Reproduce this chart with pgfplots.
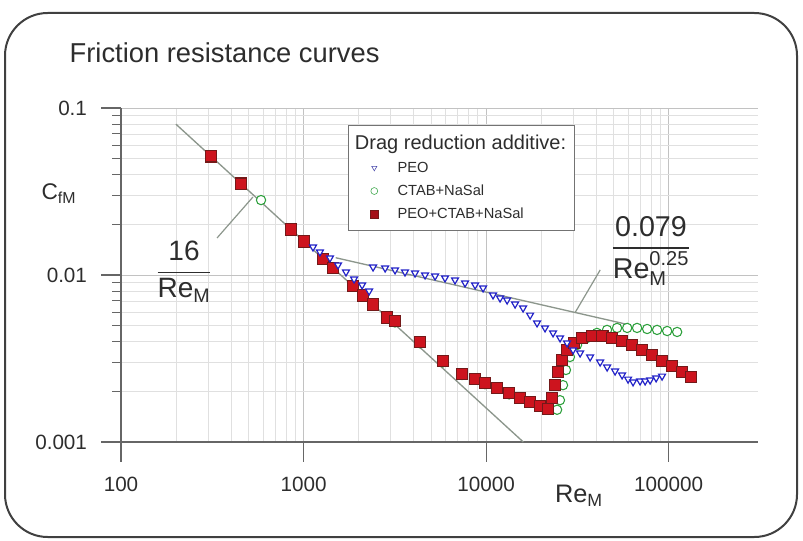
\documentclass[border=0pt]{standalone}
\usepackage{fontspec}
\setmainfont{Liberation Sans}
\usepackage{amsmath}
\usepackage{pgfplots}
\pgfplotsset{compat=1.18}
\definecolor{peoblue}{RGB}{35,35,200}
\definecolor{ctabgreen}{RGB}{45,160,60}
\definecolor{mixred}{RGB}{205,20,30}
\definecolor{mixedge}{RGB}{115,25,25}
\definecolor{txt}{RGB}{45,45,45}
\definecolor{refline}{RGB}{140,150,140}

\begin{document}
\begin{tikzpicture}
\path[use as bounding box] (0,0) rectangle (602.25pt,405pt);
\draw[line width=1.5pt, black!75, rounded corners=32pt] (3.75pt,2.25pt) rectangle (597.75pt,395.25pt);
\begin{axis}[
  at={(90.75pt,73.5pt)}, anchor=south west,
  scale only axis, width=477.75pt, height=250.5pt,
  xmode=log, ymode=log,
  xmin=100, xmax=3.09e5, ymin=0.001, ymax=0.1,
  axis lines*=left,
  axis line style={black!60, line width=0.9pt},
  grid=both,
  major grid style={black!24, line width=0.6pt},
  minor grid style={black!12, line width=0.5pt},
  tick align=outside,
  major tick length=15pt, minor tick length=6.75pt,
  tick style={black!60, line width=0.8pt},
  minor x tick style={draw=none},
  xtick={100,1000,10000,100000}, xticklabels={100,1000,10000,100000},
  ytick={0.001,0.01,0.1}, yticklabels={0.001,0.01,0.1},
  ticklabel style={font=\fontsize{15.5}{18}\selectfont, text=txt},
  xticklabel style={yshift=-8pt},
  yticklabel style={xshift=-7pt},
  title={Friction resistance curves},
  title style={at={(axis description cs:-0.088,1.111)}, anchor=base west,
    font=\fontsize{20.5}{24}\selectfont, text=txt},
  xlabel={Re\textsubscript{M}},
  xlabel style={at={(axis description cs:0.674,-0.18)}, anchor=base west,
    font=\fontsize{19}{22}\selectfont, text=txt},
  ylabel={C\textsubscript{fM}},
  ylabel style={rotate=-90, at={(axis description cs:-0.132,0.7246)}, anchor=base west,
    font=\fontsize{17}{20}\selectfont, text=txt},
  legend style={at={(axis description cs:0.3564,0.949)}, anchor=north west,
    draw=black!55, fill=white, font=\fontsize{11}{13}\selectfont, text=txt,
    inner xsep=4pt, inner ysep=5pt, row sep=4pt},
  legend cell align=left,
  legend image code/.code={\path[draw=none, fill=none] (0pt,-3pt) rectangle (31pt,3pt);
    \draw[#1] plot coordinates {(15.5pt,0pt)};},
]
\addlegendimage{empty legend}
\addlegendentry{\hspace*{-32pt}\fontsize{15}{18}\selectfont Drag reduction additive:}
\addlegendimage{only marks, mark=triangle*, mark size=2.2pt, mark options={rotate=180, fill=white, draw=peoblue!60!gray}}
\addlegendentry{PEO}
\addlegendimage{only marks, mark=*, mark size=2.6pt, mark options={fill=white, draw=ctabgreen}}
\addlegendentry{CTAB+NaSal}
\addlegendimage{only marks, mark=square*, mark size=3pt, mark options={fill=mixred!80!black, draw=mixedge}}
\addlegendentry{PEO+CTAB+NaSal}

% reference lines: laminar 16/Re and Blasius 0.079/Re^0.25
\addplot[forget plot, refline, line width=1pt] coordinates {(200,0.08) (16000,0.001)};
\addplot[forget plot, refline, line width=1pt] coordinates {(1500,0.01269) (60000,0.005047)};

% CTAB+NaSal
\addplot[forget plot, only marks, mark=*, mark size=3.5pt,
  mark options={fill=white, draw=ctabgreen, line width=0.8pt}] table {
585 0.0281
855 0.0187
1280 0.0125
1868 0.00857
2404 0.00666
3170 0.0052
4345 0.0039
5810 0.0030
7380 0.00252
9880 0.00222
13370 0.00193
17400 0.00172
21880 0.00156
24500 0.00156
25400 0.00178
26400 0.00219
27400 0.00270
28800 0.00323
31500 0.00381
35800 0.00420
40500 0.00450
46000 0.00469
52200 0.00482
59300 0.00482
67200 0.00482
76300 0.00475
86500 0.00469
98200 0.00462
111400 0.00456
};

% PEO+CTAB+NaSal
\addplot[forget plot, only marks, mark=square*, mark size=4.3pt,
  mark options={fill=mixred, draw=mixedge, line width=0.8pt}] table {
311 0.0514
455 0.0352
855 0.0187
1007 0.0159
1280 0.0125
1452 0.0110
1868 0.00857
2118 0.00755
2404 0.00666
2870 0.00557
3170 0.0053
4345 0.00397
5810 0.00305
7380 0.00255
8700 0.00238
9880 0.00225
11500 0.00210
13370 0.00196
15350 0.00183
17400 0.00174
19770 0.00164
21880 0.00158
23000 0.00183
23900 0.00219
24800 0.00262
26100 0.00310
27800 0.00356
30400 0.00392
33600 0.00420
38100 0.00432
43300 0.00432
49000 0.00420
55600 0.00403
63100 0.00381
71600 0.00356
81300 0.00332
92100 0.00305
104500 0.00285
118600 0.00262
132900 0.00245
};

% PEO
\addplot[forget plot, only marks, mark=triangle*, mark size=3pt,
  mark options={rotate=180, fill=white, draw=peoblue, line width=0.9pt}] table {
1127 0.0147
1230 0.01374
1396 0.01265
1545 0.01148
1709 0.01042
1892 0.00946
2094 0.00871
2287 0.00802
2404 0.01116
2800 0.01101
3172 0.01072
3597 0.01042
4082 0.01027
4632 0.01000
5256 0.00986
5960 0.00960
6761 0.00934
7674 0.00896
8710 0.00871
9630 0.00836
10920 0.00759
11930 0.00728
13040 0.00708
14420 0.00670
15950 0.00634
17430 0.00575
19030 0.00516
21040 0.00482
23280 0.00450
25430 0.00420
27780 0.00392
29970 0.00356
32750 0.00341
37160 0.00323
42160 0.00301
46060 0.00281
50910 0.00266
55620 0.00252
59980 0.00238
63880 0.00229
69760 0.00232
74380 0.00232
79220 0.00235
85450 0.00242
92120 0.00248
};

% leader lines and formulae
\draw[refline, line width=0.9pt] (axis cs:336,0.01667) -- (axis cs:528,0.0293);
\draw[refline, line width=0.9pt] (axis cs:42200,0.01072) -- (axis cs:30760,0.00596);
\node[anchor=base, text=txt, font=\fontsize{21}{25}\selectfont]
  at (axis description cs:0.0989,0.488) {$\displaystyle\frac{\text{16}}{\text{Re}_{\text{M}}}$};
\node[anchor=base, text=txt, font=\fontsize{21.5}{26}\selectfont]
  at (axis description cs:0.832,0.560) {$\displaystyle\frac{\text{0.079}}{\text{Re}_{\text{M}}^{\text{0.25}}}$};
\end{axis}
\end{tikzpicture}
\end{document}
